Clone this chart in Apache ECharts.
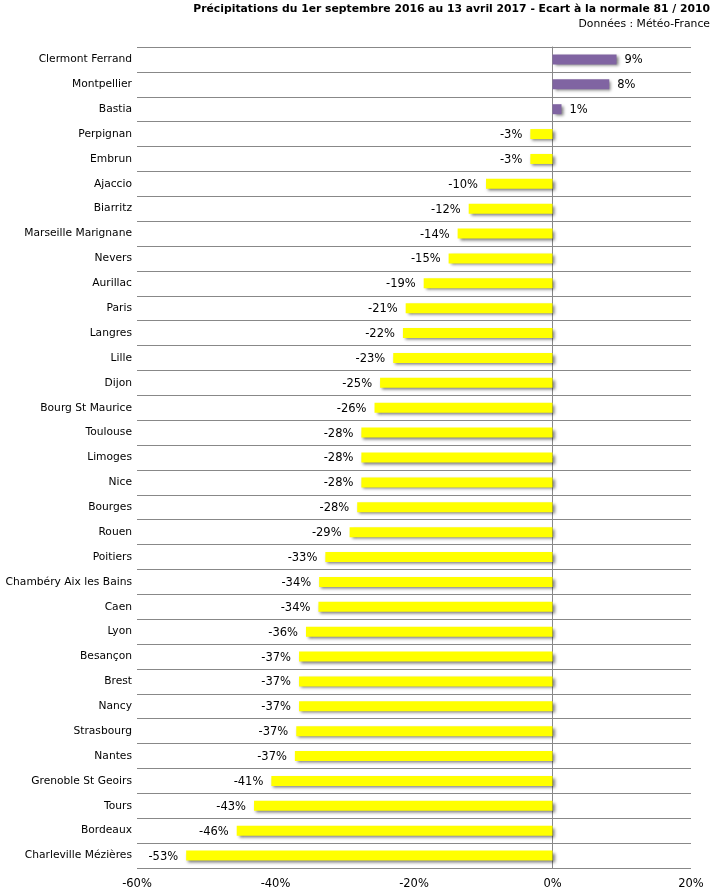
<!DOCTYPE html>
<html>
<head>
<meta charset="utf-8">
<script src="https://cdn.jsdelivr.net/npm/echarts@6/dist/echarts.min.js"></script>
<style>
html,body{margin:0;padding:0;background:#fff;}
#chart{width:715px;height:891px;}
</style>
</head>
<body>
<div id="chart"></div>
<script>
const titleText = 'Précipitations du 1er septembre 2016 au 13 avril 2017 - Ecart à la normale 81 / 2010';
const subtitleText = 'Données : Météo-France';
const cities = ['Clermont Ferrand','Montpellier','Bastia','Perpignan','Embrun','Ajaccio','Biarritz','Marseille Marignane','Nevers','Aurillac','Paris','Langres','Lille','Dijon','Bourg St Maurice','Toulouse','Limoges','Nice','Bourges','Rouen','Poitiers','Chambéry Aix les Bains','Caen','Lyon','Besançon','Brest','Nancy','Strasbourg','Nantes','Grenoble St Geoirs','Tours','Bordeaux','Charleville Mézières'];
const values = [9.25,8.2,1.3,-3.2,-3.2,-9.6,-12.1,-13.7,-15.0,-18.6,-21.2,-21.6,-23.0,-24.9,-25.7,-27.6,-27.6,-27.6,-28.2,-29.3,-32.8,-33.7,-33.8,-35.6,-36.6,-36.6,-36.6,-37.0,-37.2,-40.6,-43.1,-45.6,-52.9];
const xTicks = {min:-60, max:20, interval:20};
const posColor = '#8064A2';
const negColor = '#FFFF00';
const FONT = '"DejaVu Sans", Verdana, sans-serif';

function roundHalfAway(v){ return Math.sign(v)*Math.round(Math.abs(v)); }

const chart = echarts.init(document.getElementById('chart'));
chart.setOption({
  animation:false,
  backgroundColor:'#fff',
  textStyle:{fontFamily:FONT},
  graphic:[
    {type:'text', right:5, top:4, style:{text:titleText, font:'bold 10.8px '+FONT, fill:'#000', textAlign:'right'}},
    {type:'text', right:5, top:19, style:{text:subtitleText, font:'10.8px '+FONT, fill:'#000', textAlign:'right'}}
  ],
  grid:{left:137, right:24, top:47, bottom:23, containLabel:false},
  xAxis:{
    type:'value', min:xTicks.min, max:xTicks.max, interval:xTicks.interval,
    axisLine:{show:false}, axisTick:{show:false}, splitLine:{show:false},
    axisLabel:{formatter:'{value}%', color:'#000', fontSize:11.5, fontFamily:FONT, margin:10}
  },
  yAxis:{
    type:'category', data:cities, inverse:true,
    axisLine:{show:true, onZero:true, lineStyle:{color:'#888', width:1}},
    axisTick:{show:false},
    splitLine:{show:true, lineStyle:{color:'#888', width:1}},
    axisLabel:{color:'#000', fontSize:10.7, fontFamily:FONT, margin:5, padding:[3,0,0,0]}
  },
  series:[{
    type:'bar', barWidth:10,
    data:values.map(v=>({value:v, label:{position: v<0 ? 'left':'right'}})),
    itemStyle:{
      color:p=>p.value<0?negColor:posColor,
      shadowColor:'rgba(0,0,0,0.5)', shadowBlur:3, shadowOffsetX:2, shadowOffsetY:2
    },
    label:{show:true, distance:8, offset:[0,1], color:'#000', fontSize:11.5, fontFamily:FONT,
      formatter:p=>roundHalfAway(p.value)+'%'}
  }]
});
</script>
</body>
</html>
